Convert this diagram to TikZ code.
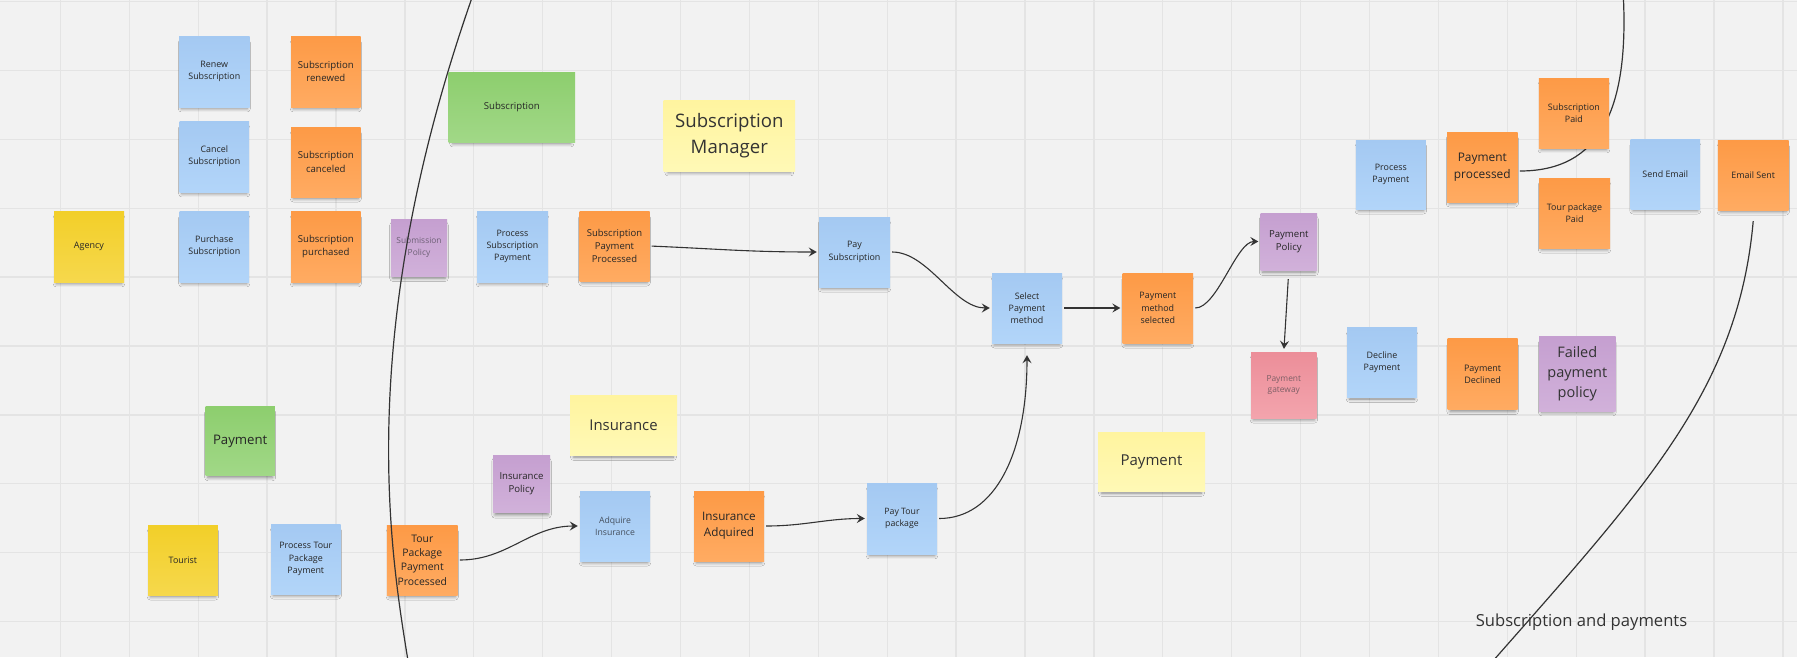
\documentclass[tikz,border=0pt]{standalone}
\usepackage{fontspec}
\setmainfont{Open Sans}
\usetikzlibrary{arrows.meta,shadows.blur}

% board and sticky colours
\definecolor{board}{HTML}{F2F2F2}
\definecolor{gridc}{HTML}{E4E4E4}
\definecolor{inkc}{HTML}{262626}
\definecolor{linec}{HTML}{333333}
\definecolor{blueT}{HTML}{A4C9F2}\definecolor{blueB}{HTML}{B2D5F9}
\definecolor{orangeT}{HTML}{FD9A46}\definecolor{orangeB}{HTML}{FFAB62}
\definecolor{goldT}{HTML}{F2CF29}\definecolor{goldB}{HTML}{F6D84C}
\definecolor{creamT}{HTML}{FFF49F}\definecolor{creamB}{HTML}{FFF9B6}
\definecolor{greenT}{HTML}{8DCE6E}\definecolor{greenB}{HTML}{A1D887}
\definecolor{violetT}{HTML}{C59FD0}\definecolor{violetB}{HTML}{D1B1DA}
\definecolor{pinkT}{HTML}{EC8E99}\definecolor{pinkB}{HTML}{F3A4AD}
\definecolor{mutedviolet}{HTML}{6E6176}
\definecolor{mutedpink}{HTML}{7E5F66}
\definecolor{mutedblue}{HTML}{45505E}

% font size with proportional line spacing
\newcommand{\tsz}[1]{\fontsize{#1pt}{\dimexpr #1pt*138/100\relax}\selectfont}

\tikzset{
  sticky/.style={minimum width=70pt, minimum height=70pt, inner sep=2pt,
    align=center, text=inkc,
    blur shadow={shadow xshift=0pt, shadow yshift=-4.5pt, shadow scale=0.93,
      shadow opacity=45, shadow blur radius=3.5pt}},
  blue note/.style={sticky, top color=blueT, bottom color=blueB},
  orange note/.style={sticky, top color=orangeT, bottom color=orangeB},
  gold note/.style={sticky, top color=goldT, bottom color=goldB},
  cream note/.style={sticky, top color=creamT, bottom color=creamB},
  green note/.style={sticky, top color=greenT, bottom color=greenB},
  violet note/.style={sticky, top color=violetT, bottom color=violetB},
  pink note/.style={sticky, top color=pinkT, bottom color=pinkB},
  flow/.style={draw=linec, line width=1.1pt,
    -{Stealth[length=8pt,width=9pt,inset=3pt]}, shorten >=2pt, shorten <=2pt},
  boundary/.style={draw=linec, line width=1.2pt},
  gridline/.style={draw=gridc, line width=1.3pt},
}

\begin{document}
\begin{tikzpicture}[x=1pt,y=-1pt]
\useasboundingbox (0,0) rectangle (1797,657);
\fill[board] (0,0) rectangle (1797,657);
\clip (0,0) rectangle (1797,657);

% board grid
\foreach \k in {0,...,25} \draw[gridline] (60.4+68.9*\k,0) -- (60.4+68.9*\k,657);
\foreach \k in {0,...,9} \draw[gridline] (0,1.5+68.9*\k) -- (1797,1.5+68.9*\k);

% exit points of the boundary lines
\coordinate (topexit) at (1623,-10);
\coordinate (bottomexit) at (1485,670);

% ---- subscription lane ----
\node[blue note, minimum width=70.5pt, minimum height=71pt, font=\tsz{8.9}] (renew) at (214.3,71.5) {Renew\\Subscription};
\node[orange note, minimum width=69.5pt, minimum height=71pt, font=\tsz{9.6}] (subren) at (325.8,71.5) {Subscription\\renewed};
\node[blue note, minimum width=69.5pt, minimum height=71pt, font=\tsz{8.9}] (cancel) at (214.3,156.5) {Cancel\\Subscription};
\node[orange note, minimum width=69.5pt, minimum height=70pt, font=\tsz{9.6}] (subcan) at (325.8,162) {Subscription\\canceled};
\node[gold note, minimum width=70pt, minimum height=71pt, font=\tsz{9}] (agency) at (89,246.5) {Agency};
\node[blue note, minimum width=69.5pt, minimum height=71pt, font=\tsz{8.9}] (purchase) at (214.3,246.5) {Purchase\\Subscription};
\node[orange note, minimum width=69.5pt, minimum height=71pt, font=\tsz{9.6}] (subpur) at (325.8,246.5) {Subscription\\purchased};
\node[violet note, minimum width=56pt, minimum height=57pt, font=\tsz{8.4}, text=mutedviolet] (subpol) at (419,247.5) {Submission\\Policy};
\node[blue note, minimum width=71pt, minimum height=71pt, font=\tsz{8.9}] (procsub) at (512.5,246.5) {Process\\Subscription\\Payment};
\node[green note, minimum width=126.5pt, minimum height=70pt, font=\tsz{9.6}] (subgreen) at (511.8,107) {Subscription};
\node[orange note, minimum width=70pt, minimum height=70pt, font=\tsz{9.5}] (spp) at (614.5,246) {Subscription\\Payment\\Processed};
\node[cream note, minimum width=131.5pt, minimum height=71pt, font=\tsz{18.6}, text=linec] (submgr) at (729.3,135.5) {Subscription\\Manager};
\node[blue note, minimum width=71pt, minimum height=70pt, font=\tsz{8.9}] (paysub) at (854.5,252) {Pay\\Subscription};

% ---- payment lane ----
\node[blue note, minimum width=70pt, minimum height=70pt, font=\tsz{8.9}] (selpay) at (1027,308) {Select\\Payment\\method};
\node[orange note, minimum width=70.5pt, minimum height=70pt, font=\tsz{8.9}] (pms) at (1157.8,308) {Payment\\method\\selected};
\node[violet note, minimum width=56.5pt, minimum height=57pt, font=\tsz{9.6}] (paypol) at (1288.8,241.5) {Payment\\Policy};
\node[blue note, minimum width=70pt, minimum height=69pt, font=\tsz{8.9}] (procpay) at (1390.8,174.5) {Process\\Payment};
\node[orange note, minimum width=70.6pt, minimum height=70pt, font=\tsz{11.9}] (payproc) at (1482.3,167) {Payment\\processed};

% this line runs behind the paid notes
\draw[boundary] ([xshift=2pt,yshift=-4pt]payproc.east) .. controls (1600,171) and (1630,110) .. (topexit);

\node[orange note, minimum width=70.3pt, minimum height=70pt, font=\tsz{8.9}] (subpaid) at (1573.9,113) {Subscription\\Paid};
\node[orange note, minimum width=71pt, minimum height=70pt, font=\tsz{8.9}] (tourpaid) at (1574.5,213) {Tour package\\Paid};
\node[blue note, minimum width=69.5pt, minimum height=70pt, font=\tsz{8.9}] (sendemail) at (1665.3,174) {Send Email};
\node[orange note, minimum width=70.8pt, minimum height=70pt, font=\tsz{8.9}] (emailsent) at (1753.2,175) {Email Sent};
\node[pink note, minimum width=65.5pt, minimum height=66pt, font=\tsz{8.4}, text=mutedpink] (gateway) at (1283.8,385) {Payment\\gateway};
\node[blue note, minimum width=70pt, minimum height=69.5pt, font=\tsz{8.9}] (decline) at (1382,362.5) {Decline\\Payment};
\node[orange note, minimum width=70pt, minimum height=70.7pt, font=\tsz{9}] (paydec) at (1482.6,374.3) {Payment\\Declined};
\node[violet note, minimum width=76.6pt, minimum height=75pt, font=\tsz{14.5}, text=linec] (failpol) at (1577.3,373.5) {Failed\\payment\\policy};
\node[cream note, minimum width=107pt, minimum height=59pt, font=\tsz{15}, text=linec] (payyellow) at (1151.5,461.5) {Payment};

% ---- tour package lane ----
\node[green note, minimum width=69.3pt, minimum height=69.7pt, font=\tsz{13.2}] (paygreen) at (240.2,440.9) {Payment};
\node[gold note, minimum width=69.8pt, minimum height=70pt, font=\tsz{8.9}] (tourist) at (182.9,560) {Tourist};
\node[blue note, minimum width=69.6pt, minimum height=70pt, font=\tsz{8.9}] (proctour) at (305.8,559) {Process Tour\\Package\\Payment};
\node[orange note, minimum width=70.7pt, minimum height=70pt, font=\tsz{10.4}] (tppp) at (422.3,560) {Tour\\Package\\Payment\\Processed};
\node[violet note, minimum width=57pt, minimum height=57.7pt, font=\tsz{9.6}] (inspol) at (521.5,483.9) {Insurance\\Policy};
\node[cream note, minimum width=107pt, minimum height=59.3pt, font=\tsz{14.9}, text=linec] (insyellow) at (623.5,425.4) {Insurance};
\node[blue note, minimum width=70pt, minimum height=70pt, font=\tsz{8.7}, text=mutedblue] (adquire) at (615,526) {Adquire\\Insurance};
\node[orange note, minimum width=70pt, minimum height=70pt, font=\tsz{11.7}] (insadq) at (729,526) {Insurance\\Adquired};
\node[blue note, minimum width=70pt, minimum height=71pt, font=\tsz{8.75}] (paytour) at (902,518.5) {Pay Tour\\package};

% ---- flow connectors ----
\draw[flow] (spp.east) .. controls +(70,3) and +(-70,0) .. (paysub.west);
\draw[flow] (paysub.east) .. controls +(38,0) and +(-38,0) .. (selpay.west);
\draw[flow] (selpay.east) -- (pms.west);
\draw[flow] (pms.east) .. controls +(24,0) and +(-24,0) .. (paypol.west);
\draw[flow, shorten <=9pt, shorten >=3pt] (paypol.south) -- (gateway.north);
\draw[flow] (tppp.east) .. controls +(50,0) and +(-50,0) .. (adquire.west);
\draw[flow] (insadq.east) .. controls +(40,0) and +(-40,0) .. (paytour.west);
\draw[flow, shorten >=12pt] (paytour.east) .. controls +(58,0) and +(0,110) .. (selpay.south);

% ---- context boundaries ----
\draw[boundary] (474,-8) .. controls (351,340) and (392,560.6) .. (409,667);
\draw[boundary] ([yshift=-11pt]emailsent.south) .. controls (1738,392) and (1643,490) .. (bottomexit);

\node[font=\tsz{16.6}, text=linec, inner sep=0pt] (ctxlabel) at (1581.5,622) {Subscription and payments};
\end{tikzpicture}
\end{document}
